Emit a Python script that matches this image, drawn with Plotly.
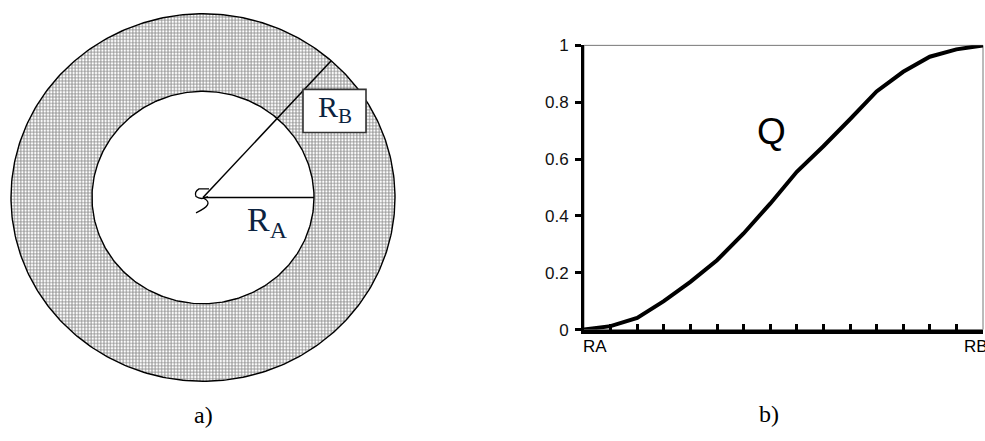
import numpy as np
import plotly.graph_objects as go

# ---- data: right chart (Q vs r, from RA to RB) ----
x_ticks = [i / 15 for i in range(16)]
q_values = [0.0, 0.012, 0.041, 0.100, 0.168, 0.244, 0.338, 0.443,
            0.555, 0.645, 0.740, 0.838, 0.907, 0.960, 0.986, 1.0]
y_tick_vals = [0, 0.2, 0.4, 0.6, 0.8, 1]
y_tick_text = ["0", "0.2", "0.4", "0.6", "0.8", "1"]
x_end_labels = ["RA", "RB"]

# ---- diagram values (left, in pixels) ----
radius_a = 111
radius_b = 192
angle_b_deg = 48.1
center = (203, 197)

W, H = 985, 441
NAVY = "#0c2340"

fig = go.Figure()

t = np.linspace(0, 2 * np.pi, 361)
cx, cy = center
# outer disk with grid hatch
fig.add_trace(go.Scatter(
    x=cx + radius_b * np.cos(t), y=cy + radius_b * np.sin(t),
    mode="lines", fill="toself", fillcolor="white",
    fillpattern=dict(shape="+", size=3.2, solidity=0.5, fgcolor="#1e1e1e", bgcolor="white"),
    line=dict(color="black", width=1.4), hoverinfo="skip", showlegend=False,
    xaxis="x", yaxis="y"))
# inner white disk
fig.add_trace(go.Scatter(
    x=cx + radius_a * np.cos(t), y=cy + radius_a * np.sin(t),
    mode="lines", fill="toself", fillcolor="white",
    line=dict(color="black", width=1.4), hoverinfo="skip", showlegend=False,
    xaxis="x", yaxis="y"))
# radius lines
ang = np.deg2rad(angle_b_deg)
fig.add_trace(go.Scatter(
    x=[cx, cx + radius_a, None, cx, cx + radius_b * np.cos(ang)],
    y=[cy, cy, None, cy, cy - radius_b * np.sin(ang)],
    mode="lines", line=dict(color="black", width=1.5),
    hoverinfo="skip", showlegend=False, xaxis="x", yaxis="y"))

# curve Q
fig.add_trace(go.Scatter(
    x=x_ticks, y=q_values, mode="lines",
    line=dict(color="black", width=4), hoverinfo="skip", showlegend=False,
    xaxis="x2", yaxis="y2"))

shapes = [
    # thin frame of chart (top and right)
    dict(type="rect", xref="x2 domain", yref="y2 domain", x0=0, x1=1, y0=0, y1=1,
         line=dict(color="#777777", width=1), layer="below"),
    # RB label box
    dict(type="rect", xref="x", yref="y", x0=303, x1=366, y0=84, y1=129,
         line=dict(color="#333333", width=1.6), fillcolor="white", layer="above"),
    # small curl at centre
    dict(type="path", xref="x", yref="y",
         path="M 209 188 L 199 188 Q 194 191 196 196 Q 201 200 208 196",
         line=dict(color="black", width=1.3), layer="above"),
    dict(type="path", xref="x", yref="y",
         path="M 204 198 Q 215 204 196 213",
         line=dict(color="black", width=1.3), layer="above"),
]

annotations = [
    dict(x=245, y=223, xref="x", yref="y", text="R<sub>A</sub>", showarrow=False,
         xanchor="left", yanchor="middle",
         font=dict(family="Liberation Serif", size=34, color=NAVY)),
    dict(x=334.5, y=104, xref="x", yref="y", text="R<sub>B</sub>", showarrow=False,
         xanchor="center", yanchor="middle",
         font=dict(family="Liberation Serif", size=30, color=NAVY)),
    dict(x=203, y=424, xref="x", yref="y", text="a)", showarrow=False,
         font=dict(family="Liberation Serif", size=24, color="black")),
    dict(x=769, y=423, xref="x", yref="y", text="b)", showarrow=False,
         font=dict(family="Liberation Serif", size=24, color="black")),
    dict(x=771, y=128, xref="x", yref="y", text="Q", showarrow=False,
         font=dict(family="Liberation Sans", size=37, color="black")),
    dict(x=0, y=0, xref="x2", yref="y2", text=x_end_labels[0], showarrow=False,
         xanchor="left", yanchor="top", yshift=-5, xshift=-3,
         font=dict(family="Liberation Sans", size=17, color="black")),
    dict(x=1, y=0, xref="x2", yref="y2", text=x_end_labels[1], showarrow=False,
         xanchor="left", yanchor="top", yshift=-5, xshift=-21,
         font=dict(family="Liberation Sans", size=17, color="black")),
]

fig.update_layout(
    width=W, height=H, margin=dict(l=0, r=0, t=0, b=0),
    paper_bgcolor="white", plot_bgcolor="rgba(0,0,0,0)",
    showlegend=False, shapes=shapes, annotations=annotations,
    xaxis=dict(domain=[0, 1], range=[0, W], visible=False, fixedrange=True),
    yaxis=dict(domain=[0, 1], range=[H, 0], visible=False, fixedrange=True),
    xaxis2=dict(domain=[584 / W, 983 / W], range=[0, 1], anchor="y2",
                tickmode="array", tickvals=x_ticks, ticktext=[""] * 16,
                ticks="inside", ticklen=6, tickwidth=2.5, tickcolor="black",
                showline=True, linecolor="black", linewidth=4,
                showgrid=False, zeroline=False, fixedrange=True),
    yaxis2=dict(domain=[1 - 335 / H, 1 - 38 / H], range=[0, 1], anchor="x2",
                tickmode="array", tickvals=y_tick_vals, ticktext=y_tick_text,
                ticks="outside", ticklen=6, tickwidth=3, tickcolor="black",
                ticklabelstandoff=3,
                showline=True, linecolor="black", linewidth=3,
                showgrid=False, zeroline=False, fixedrange=True,
                tickfont=dict(family="Liberation Sans", size=17, color="#111111")),
)

fig.write_html("out.html")
